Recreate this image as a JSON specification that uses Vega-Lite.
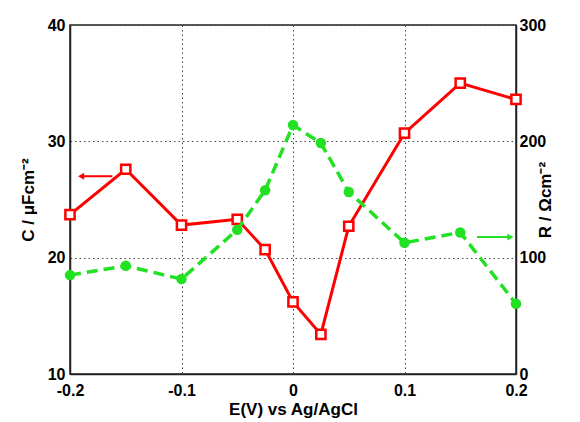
{
  "$schema": "https://vega.github.io/schema/vega-lite/v6.json",
  "width": 446,
  "height": 349,
  "autosize": "none",
  "padding": {"left": 70, "top": 25, "right": 64, "bottom": 48},
  "background": "white",
  "config": {
    "view": {"stroke": "#222222", "strokeWidth": 1.5},
    "axis": {
      "labelFont": "Liberation Sans",
      "labelFontWeight": "bold",
      "labelFontSize": 16,
      "labelColor": "black",
      "labelFlush": false,
      "labelOverlap": false,
      "titleFont": "Liberation Sans",
      "titleFontWeight": "bold",
      "titleFontSize": 17,
      "titleColor": "black",
      "domainColor": "#222222",
      "domainWidth": 1.5,
      "ticks": false,
      "gridColor": "#444444",
      "gridDash": [1.5, 3],
      "gridWidth": 1
    }
  },
  "datasets": {
    "cap": [
      {"E": -0.2, "C": 23.7},
      {"E": -0.15, "C": 27.6},
      {"E": -0.1, "C": 22.8},
      {"E": -0.05, "C": 23.3},
      {"E": -0.025, "C": 20.7},
      {"E": 0, "C": 16.2},
      {"E": 0.025, "C": 13.4},
      {"E": 0.05, "C": 22.7},
      {"E": 0.1, "C": 30.7},
      {"E": 0.15, "C": 35.0},
      {"E": 0.2, "C": 33.6}
    ],
    "res": [
      {"E": -0.2, "R": 85},
      {"E": -0.15, "R": 93},
      {"E": -0.1, "R": 81.6},
      {"E": -0.05, "R": 124},
      {"E": -0.025, "R": 158},
      {"E": 0, "R": 214},
      {"E": 0.025, "R": 198.5},
      {"E": 0.05, "R": 156.5},
      {"E": 0.1, "R": 112.8},
      {"E": 0.15, "R": 121.7},
      {"E": 0.2, "R": 60.4}
    ],
    "carrow": [{"E": -0.19, "E2": -0.162, "C": 27.0}],
    "rarrow": [{"E": 0.195, "E2": 0.165, "R": 117.7}]
  },
  "layer": [
    {
      "layer": [
        {
          "data": {"name": "cap"},
          "mark": {"type": "line", "color": "#ff0000", "strokeWidth": 3},
          "encoding": {
            "x": {
              "field": "E", "type": "quantitative",
              "scale": {"domain": [-0.2, 0.2], "nice": false, "zero": false},
              "axis": {"values": [-0.2, -0.1, 0, 0.1, 0.2], "labelExpr": "'' + datum.value", "title": "E(V) vs Ag/AgCl", "labelPadding": 8, "titlePadding": 3, "grid": true}
            },
            "y": {
              "field": "C", "type": "quantitative",
              "scale": {"domain": [10, 40], "nice": false, "zero": false},
              "axis": {"values": [10, 20, 30, 40], "title": "C / μFcm⁻²", "labelPadding": 5, "titlePadding": 10, "grid": true}
            }
          }
        },
        {
          "data": {"name": "carrow"},
          "mark": {"type": "rule", "color": "#ff0000", "strokeWidth": 2},
          "encoding": {
            "x": {"field": "E", "type": "quantitative", "scale": {"domain": [-0.2, 0.2], "nice": false, "zero": false}},
            "x2": {"field": "E2"},
            "y": {"field": "C", "type": "quantitative"}
          }
        },
        {
          "data": {"name": "carrow"},
          "mark": {"type": "point", "shape": "triangle-left", "filled": true, "color": "#ff0000", "size": 50, "opacity": 1},
          "encoding": {
            "x": {"field": "E", "type": "quantitative", "scale": {"domain": [-0.2, 0.2], "nice": false, "zero": false}},
            "y": {"field": "C", "type": "quantitative"}
          }
        },
        {
          "data": {"name": "cap"},
          "mark": {"type": "square", "size": 85, "fill": "white", "stroke": "#ff0000", "strokeWidth": 2.5, "opacity": 1},
          "encoding": {
            "x": {"field": "E", "type": "quantitative", "scale": {"domain": [-0.2, 0.2], "nice": false, "zero": false}},
            "y": {"field": "C", "type": "quantitative"}
          }
        }
      ]
    },
    {
      "layer": [
        {
          "data": {"name": "res"},
          "mark": {"type": "line", "color": "#22e022", "strokeWidth": 3.5, "strokeDash": [11, 6]},
          "encoding": {
            "x": {"field": "E", "type": "quantitative", "scale": {"domain": [-0.2, 0.2], "nice": false, "zero": false}},
            "y": {
              "field": "R", "type": "quantitative",
              "scale": {"domain": [0, 300], "nice": false},
              "axis": {"orient": "right", "values": [0, 100, 200, 300], "title": "R / Ωcm⁻²", "titleAngle": 270, "labelPadding": 3, "titlePadding": 9, "grid": false}
            }
          }
        },
        {
          "data": {"name": "rarrow"},
          "mark": {"type": "rule", "color": "#22e022", "strokeWidth": 2},
          "encoding": {
            "x": {"field": "E", "type": "quantitative", "scale": {"domain": [-0.2, 0.2], "nice": false, "zero": false}},
            "x2": {"field": "E2"},
            "y": {"field": "R", "type": "quantitative"}
          }
        },
        {
          "data": {"name": "rarrow"},
          "mark": {"type": "point", "shape": "triangle-right", "filled": true, "color": "#22e022", "size": 50, "opacity": 1},
          "encoding": {
            "x": {"field": "E", "type": "quantitative", "scale": {"domain": [-0.2, 0.2], "nice": false, "zero": false}},
            "y": {"field": "R", "type": "quantitative"}
          }
        },
        {
          "data": {"name": "res"},
          "mark": {"type": "circle", "size": 110, "color": "#22e022", "opacity": 1},
          "encoding": {
            "x": {"field": "E", "type": "quantitative", "scale": {"domain": [-0.2, 0.2], "nice": false, "zero": false}},
            "y": {"field": "R", "type": "quantitative"}
          }
        }
      ]
    }
  ],
  "resolve": {"scale": {"y": "independent"}}
}
